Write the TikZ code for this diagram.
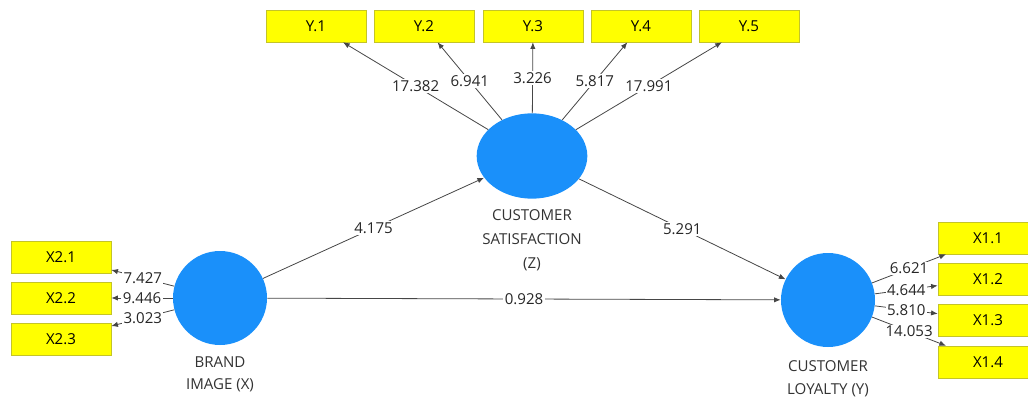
\documentclass[tikz,border=0pt]{standalone}
\usepackage{fontspec}
\setmainfont{Open Sans}
\usetikzlibrary{arrows.meta,shapes.geometric,positioning}
\definecolor{lvblue}{RGB}{26,144,250}
\definecolor{indyellow}{RGB}{255,255,0}
\definecolor{indborder}{RGB}{196,196,40}
\definecolor{pathgray}{RGB}{70,70,70}

\begin{document}
\begin{tikzpicture}[x=0.75pt,y=-0.75pt,
ind/.style={draw=indborder,fill=indyellow,minimum width=75pt,minimum height=24pt,inner sep=0pt,font=\fontsize{11.3}{12}\selectfont},
lv/.style={fill=lvblue,circle,minimum size=70.5pt,inner sep=0pt},
lvtext/.style={align=center,text=black!80,inner sep=0pt},
arr/.style={draw=pathgray,line width=0.6pt,-{Latex[length=5pt,width=4pt]}},
coef/.style={fill=white,inner sep=1pt,text=black!85,font=\fontsize{11.3}{12}\selectfont}]

\useasboundingbox (0,0) rectangle (1028,399);

\node[lv] (bi) at (220,298) {};
\node[lv,ellipse,minimum width=83pt,minimum height=64pt] (cs) at (532,156) {};
\node[lv] (cl) at (828,300) {};

\node[lvtext,font=\fontsize{11.3}{16.5}\selectfont,below=8pt of bi] (bitext) {BRAND\\IMAGE (X)};
\node[lvtext,font=\fontsize{11.3}{18}\selectfont,below=8pt of cs] (cstext) {CUSTOMER\\SATISFACTION\\(Z)};
\node[lvtext,font=\fontsize{11.3}{17}\selectfont,below=10pt of cl] (cltext) {CUSTOMER\\LOYALTY (Y)};

\foreach \i/\x in {1/316,2/424,3/533,4/641,5/749}
{
\node[ind] (y\i) at (\x,26) {Y.\i};
}
\foreach \i/\y in {1/257,2/298,3/339}
{
\node[ind] (xb\i) at (61,\y) {X2.\i};
}
\foreach \i/\y in {1/238,2/279,3/320,4/362}
{
\node[ind] (xl\i) at (988,\y) {X1.\i};
}

\draw[arr] (bi) -- node[coef] {4.175} (cs);
\draw[arr] (cs) -- node[coef] {5.291} (cl);
\draw[arr] (bi) -- node[coef] {0.928} (cl);

\foreach \i/\v in {1/17.382,2/6.941,3/3.226,4/5.817,5/17.991}
{
\draw[arr] (cs) -- node[coef] {\v} (y\i);
}
\foreach \i/\v in {1/7.427,2/9.446,3/3.023}
{
\draw[arr] (bi) -- node[coef] {\v} (xb\i);
}
\foreach \i/\v in {1/6.621,2/4.644,3/5.810,4/14.053}
{
\draw[arr] (cl) -- node[coef] {\v} (xl\i);
}
\end{tikzpicture}
\end{document}
